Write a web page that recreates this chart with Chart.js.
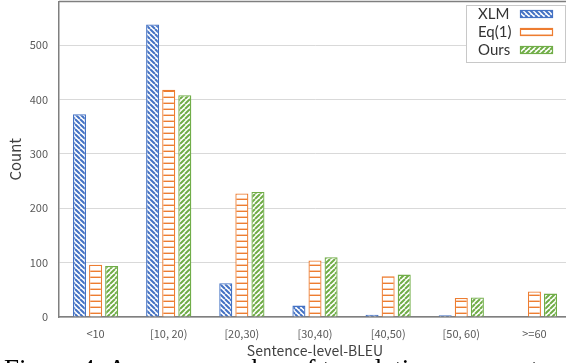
<!DOCTYPE html>
<html>
<head>
<meta charset="utf-8">
<script src="https://cdn.jsdelivr.net/npm/chart.js@4"></script>
<style>
  html, body { margin: 0; padding: 0; background: #fff; overflow: hidden; width: 566px; height: 363px; }
  #wrap { position: relative; width: 572px; height: 363px; overflow: hidden; }
  #grafico { position: absolute; left: 0; top: -16px; }
  #caption {
    position: absolute; left: 4px; top: 354px; white-space: nowrap;
    font-family: "Liberation Serif", serif; font-size: 27px; color: #000;
  }
</style>
</head>
<body>
<div id="wrap">
  <canvas id="grafico" width="572" height="381"></canvas>
  <div id="caption">Figure 4: Average number of translations per sentence-level BLEU</div>
</div>
<script>
// datos
const categorias = ['<10', '[10, 20)', '[20,30)', '[30,40)', '[40,50)', '[50, 60)', '>=60'];
const valoresXLM = [373, 538, 62, 21, 4, 3, 0];
const valoresEq1 = [96, 418, 227, 104, 75, 35, 47];
const valoresOurs = [94, 408, 230, 110, 78, 36, 43];
const ticksY = [0, 100, 200, 300, 400, 500];

const azul = '#4472C4';
const naranja = '#ED7D31';
const verde = '#70AD47';

// crea un patron de rayas
const crearPatron = (color, tipo) => {
    const c = document.createElement('canvas');
    const s = tipo === 'h' ? 6 : 5;
    c.width = s;
    c.height = s;
    const g = c.getContext('2d');
    g.fillStyle = '#fff';
    g.fillRect(0, 0, s, s);
    g.strokeStyle = color;
    g.lineWidth = tipo === 'h' ? 1.4 : 2;
    g.beginPath();
    if (tipo === 'h') {
        g.moveTo(0, s - 0.7);
        g.lineTo(s, s - 0.7);
    } else if (tipo === 'b') {
        for (let k = -1; k <= 1; k++) {
            g.moveTo(k * s, 0);
            g.lineTo(k * s + s, s);
        }
    } else {
        for (let k = -1; k <= 1; k++) {
            g.moveTo(k * s, s);
            g.lineTo(k * s + s, 0);
        }
    }
    g.stroke();
    return g.createPattern(c, 'repeat');
};

const ctx = document.getElementById('grafico').getContext('2d');
const patronXLM = crearPatron(azul, 'b');
const patronEq1 = crearPatron(naranja, 'h');
const patronOurs = crearPatron(verde, 'f');

const series = [
    { label: 'XLM', data: valoresXLM, fill: patronXLM, color: azul },
    { label: 'Eq(1)', data: valoresEq1, fill: patronEq1, color: naranja },
    { label: 'Ours', data: valoresOurs, fill: patronOurs, color: verde }
];

// desplazamiento del canvas dentro de la pagina
const OFFSET = 16;

// leyenda propia: texto a la izquierda, muestra a la derecha
const leyendaPropia = {
    id: 'leyendaPropia',
    afterDraw(chart) {
        const c = chart.ctx;
        c.save();
        c.translate(0, OFFSET);
        c.strokeStyle = '#c8c8c8';
        c.lineWidth = 1;
        c.fillStyle = '#fff';
        c.fillRect(466.5, 5.5, 99, 57);
        c.strokeRect(466.5, 5.5, 99, 57);
        c.font = '15px Lato, "Open Sans", sans-serif';
        c.textBaseline = 'middle';
        const filas = [14, 32, 50];
        series.forEach((s, i) => {
            c.fillStyle = '#333';
            c.fillText(s.label, 478, filas[i]);
            c.fillStyle = s.fill;
            c.fillRect(520, filas[i] - 4, 33, 8);
            c.strokeStyle = s.color;
            c.lineWidth = 1.2;
            c.strokeRect(520.5, filas[i] - 3.5, 32, 7);
        });
        c.restore();
        // borde superior del area
        const a = chart.chartArea;
        c.save();
        c.strokeStyle = '#7f7f7f';
        c.lineWidth = 1.5;
        c.beginPath();
        c.moveTo(a.left, a.top);
        c.lineTo(a.right, a.top);
        c.stroke();
        c.restore();
    }
};

new Chart(ctx, {
    type: 'bar',
    data: {
        labels: categorias,
        datasets: series.map(s => ({
            label: s.label,
            data: s.data,
            backgroundColor: s.fill,
            borderColor: s.color,
            borderWidth: 1.3,
            categoryPercentage: 0.66,
            barPercentage: 0.81
        }))
    },
    options: {
        responsive: false,
        animation: false,
        layout: { padding: { top: 0, right: 1, left: 0, bottom: 6 } },
        plugins: {
            legend: { display: false },
            tooltip: { enabled: false }
        },
        scales: {
            x: {
                grid: { display: false },
                border: { color: '#7f7f7f', width: 1.5 },
                ticks: { color: '#595959', font: { family: '"Noto Sans CJK SC", sans-serif', size: 11 }, padding: 2 },
                title: {
                    display: true, text: 'Sentence-level-BLEU', color: '#404040',
                    font: { family: '"Noto Sans CJK SC", sans-serif', size: 14 }, padding: { top: 0, bottom: 0 }
                }
            },
            y: {
                min: 0,
                max: 580,
                afterBuildTicks: (eje) => { eje.ticks = ticksY.map(v => ({ value: v })); },
                afterFit: (eje) => { eje.width = 59; },
                grid: { color: '#d9d9d9', lineWidth: 1, drawTicks: false },
                border: { color: '#7f7f7f', width: 1.5 },
                ticks: { color: '#595959', font: { family: '"Noto Sans CJK SC", sans-serif', size: 11 }, padding: 11 },
                title: {
                    display: true, text: 'Count', color: '#404040',
                    font: { family: '"Noto Sans CJK SC", sans-serif', size: 15 }, padding: { top: 6, bottom: 0 }
                }
            }
        }
    },
    plugins: [leyendaPropia]
});
</script>
</body>
</html>
